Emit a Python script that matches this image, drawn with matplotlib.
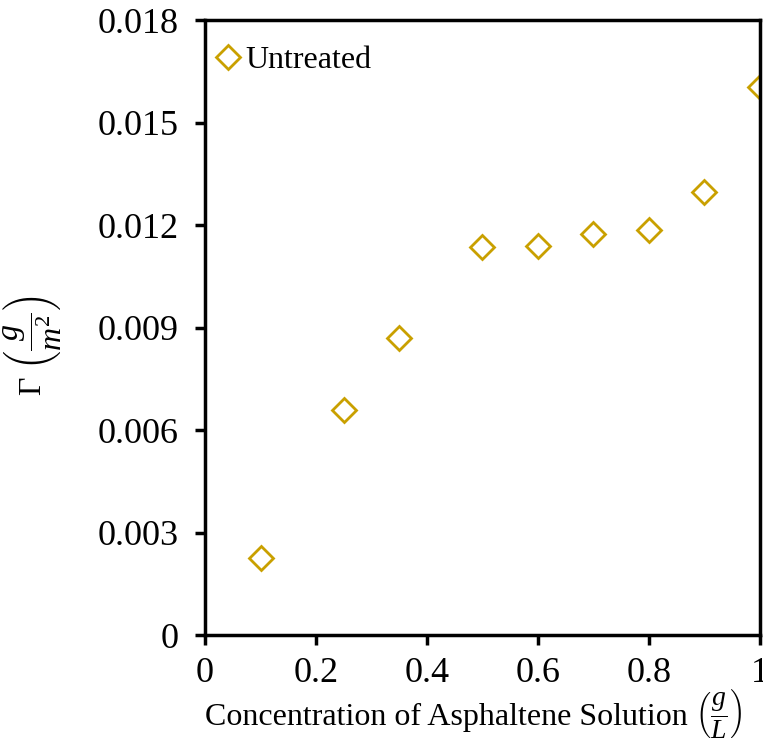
import matplotlib
matplotlib.use("Agg")
import matplotlib.pyplot as plt

# datos
conc = [0.1, 0.25, 0.35, 0.5, 0.6, 0.7, 0.8, 0.9, 1.0]
gamma = [0.00225, 0.00659, 0.00869, 0.01137, 0.01139, 0.01175, 0.01185, 0.01297, 0.01604]
xticks = [0, 0.2, 0.4, 0.6, 0.8, 1]
xlabels = ["0", "0.2", "0.4", "0.6", "0.8", "1"]
yticks = [0, 0.003, 0.006, 0.009, 0.012, 0.015, 0.018]
ylabels = ["0", "0.003", "0.006", "0.009", "0.012", "0.015", "0.018"]

plt.rcParams['font.family'] = 'Liberation Serif'
plt.rcParams['mathtext.fontset'] = 'custom'
plt.rcParams['mathtext.rm'] = 'Liberation Serif'
plt.rcParams['mathtext.it'] = 'Liberation Serif:italic'

fig = plt.figure(figsize=(7.63, 7.42), dpi=100)
ax = fig.add_axes([0.2687, 0.1442, 0.7273, 0.8288])

ax.plot(conc, gamma, linestyle='none', marker='D', markersize=12,
        markerfacecolor='white', markeredgecolor='#C9A000', markeredgewidth=2,
        label='Untreated', clip_on=True)

ax.set_xlim(0, 1)
ax.set_ylim(0, 0.018)
ax.set_xticks(xticks)
ax.set_xticklabels(xlabels)
ax.set_yticks(yticks)
ax.set_yticklabels(ylabels)
ax.tick_params(direction='out', length=7, width=2.5, labelsize=26, pad=12)
ax.tick_params(axis='x', pad=9)
for s in ax.spines.values():
    s.set_linewidth(2.5)

# etiqueta x: texto y fraccion por separado
ax.set_xlabel('Concentration of Asphaltene Solution', fontsize=23)
ax.xaxis.label.set_horizontalalignment('left')
ax.xaxis.set_label_coords(0.0, -0.11)
ax.annotate(r'$\left(\dfrac{g}{L}\right)$', xy=(1, 0.62), xycoords=ax.xaxis.label,
            xytext=(5, 0), textcoords='offset points', ha='left', va='center',
            fontsize=20, annotation_clip=False)

ax.set_ylabel(r'$\Gamma\ \left(\dfrac{g}{m^2}\right)$', fontsize=23)
ax.yaxis.set_label_coords(-0.256, 0.47)

ax.legend(loc='center left', bbox_to_anchor=(0.0, 0.935), frameon=False, fontsize=23,
          handletextpad=0.05, borderaxespad=0, borderpad=0.22, handlelength=1.0)

fig.savefig('out.png', dpi=100)
